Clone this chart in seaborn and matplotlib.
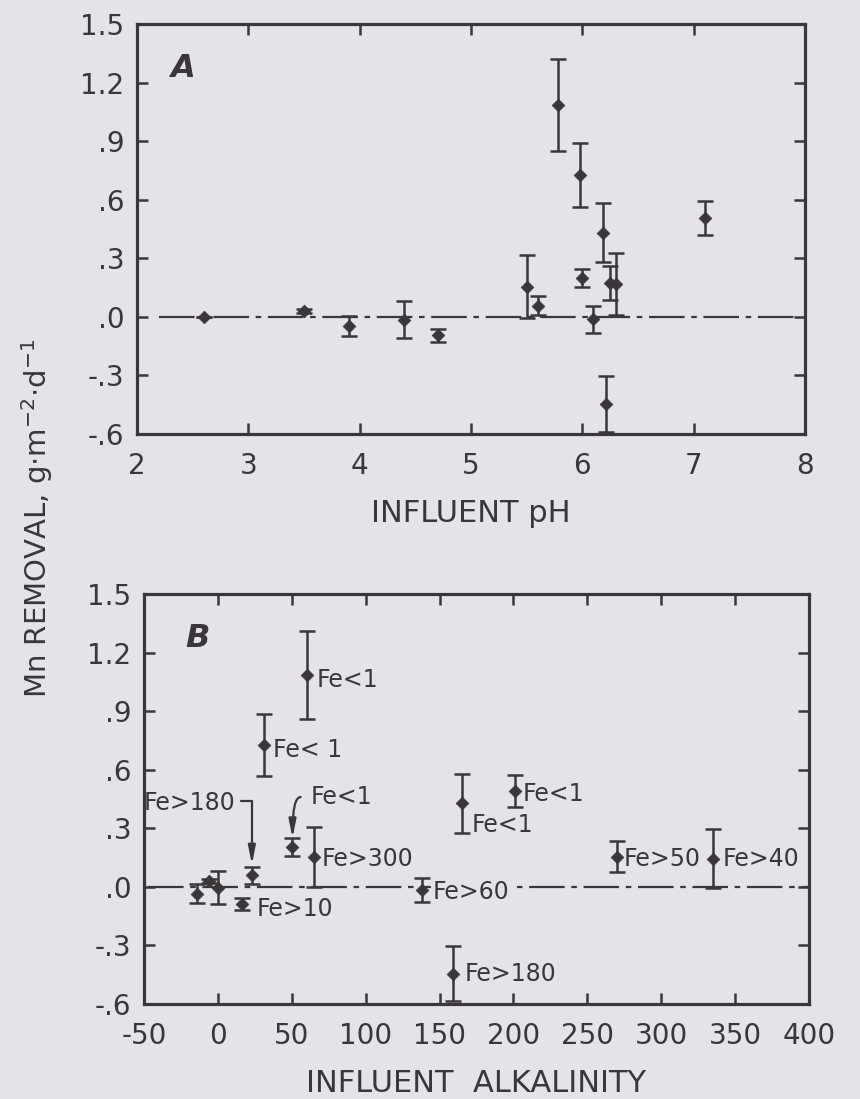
import numpy as np
import pandas as pd
import matplotlib
matplotlib.use("Agg")
import matplotlib.pyplot as plt
import seaborn as sns

# ---------------- data ----------------
# Panel A: influent pH
ph = [2.6, 3.5, 3.9, 4.4, 4.7, 5.5, 5.6, 5.78, 5.98, 6.0, 6.1, 6.19, 6.25, 6.3, 6.21, 7.1]
ph_removal = [0.0, 0.03, -0.047, -0.015, -0.095, 0.155, 0.058, 1.085, 0.728, 0.2,
              -0.013, 0.432, 0.174, 0.168, -0.446, 0.505]
ph_err = [0.0, 0.012, 0.05, 0.095, 0.035, 0.16, 0.048, 0.235, 0.165, 0.045,
          0.068, 0.153, 0.087, 0.16, 0.143, 0.086]

# Panel B: influent alkalinity
alk = [-14, -6, 0, 16, 23, 31, 50, 60, 65, 138, 159, 165, 201, 270, 335]
alk_removal = [-0.035, 0.03, -0.005, -0.088, 0.06, 0.727, 0.205, 1.086, 0.154,
               -0.017, -0.444, 0.427, 0.491, 0.154, 0.145]
alk_err = [0.05, 0.012, 0.085, 0.03, 0.043, 0.158, 0.047, 0.227, 0.154,
           0.062, 0.14, 0.15, 0.08, 0.08, 0.15]

# Iron annotations in panel B
fe_labels = ["Fe<1", "Fe< 1", "Fe>300", "Fe>10", "Fe>60", "Fe>180", "Fe<1", "Fe<1", "Fe>50", "Fe>40"]
fe_label_x = [67, 37.5, 70.5, 26, 145.5, 167, 171.5, 206.5, 274.5, 341.5]
fe_label_y = [1.06, 0.70, 0.145, -0.111, -0.026, -0.444, 0.316, 0.478, 0.145, 0.145]

# labels with leader lines
leader_labels = ["Fe>180", "Fe<1"]
leader_text_x = [12, 63]
leader_text_y = [0.43, 0.46]
leader_start_x = [15.5, 56]
leader_start_y = [0.44, 0.46]
leader_tip_x = [23, 50.5]
leader_tip_y = [0.115, 0.25]

ph_ticks = [2, 3, 4, 5, 6, 7, 8]
alk_ticks = [-50, 0, 50, 100, 150, 200, 250, 300, 350, 400]
removal_ticks = [-0.6, -0.3, 0.0, 0.3, 0.6, 0.9, 1.2, 1.5]
removal_ticklabels = ["-.6", "-.3", ".0", ".3", ".6", ".9", "1.2", "1.5"]
zero_line_ph = [2.2, 7.9]
zero_line_alk = [-47, 400]

# ---------------- style ----------------
BG = "#e5e3e9"
INK = "#3a3639"
sns.set_theme(style="ticks")
plt.rcParams["font.family"] = ["DejaVu Sans"]
plt.rcParams.update({
    "figure.facecolor": BG,
    "axes.facecolor": BG,
    "savefig.facecolor": BG,
    "axes.edgecolor": INK,
    "text.color": INK,
    "axes.labelcolor": INK,
    "xtick.color": INK,
    "ytick.color": INK,
})

fig = plt.figure(figsize=(8.6, 10.99), dpi=100)
W, H = 860, 1099
axA = fig.add_axes([137 / W, 1 - 434 / H, (805 - 137) / W, (434 - 24) / H])
axB = fig.add_axes([144 / W, 1 - 1004 / H, (809 - 144) / W, (1004 - 594) / H])

dash = (0, (16, 3, 2.5, 3))


def style_axis(ax, xticks, xlim):
    ax.set_xlim(*xlim)
    ax.set_ylim(-0.6, 1.5)
    ax.set_xticks(xticks)
    ax.set_xticklabels([str(t) for t in xticks])
    ax.set_yticks(removal_ticks)
    ax.set_yticklabels(removal_ticklabels)
    for s in ax.spines.values():
        s.set_visible(True)
        s.set_linewidth(2.3)
        s.set_color(INK)
    ax.tick_params(axis="both", direction="in", length=8, width=1.8,
                   top=True, right=True, labelsize=20, pad=9, colors=INK)
    ax.tick_params(axis="x", pad=13)


# ---------- Panel A ----------
dfA = pd.DataFrame({"ph": ph, "removal": ph_removal, "err": ph_err})
axA.hlines(0, zero_line_ph[0], zero_line_ph[1], color=INK, lw=1.6, linestyle=dash, zorder=1)
axA.errorbar(dfA["ph"], dfA["removal"], yerr=dfA["err"], fmt="none", ecolor=INK,
             elinewidth=1.8, capsize=6, capthick=1.8, zorder=3)
sns.scatterplot(data=dfA, x="ph", y="removal", ax=axA, color=INK, marker="D",
                s=42, edgecolor=INK, linewidth=0.5, zorder=4, legend=False)
style_axis(axA, ph_ticks, (2, 8))
axA.set_xlabel("INFLUENT pH", fontsize=22, labelpad=14)
axA.set_ylabel("")
axA.text(2.3, 1.27, "A", fontsize=23, fontstyle="italic", fontweight="bold",
         ha="left", va="center", color=INK)

# ---------- Panel B ----------
dfB = pd.DataFrame({"alk": alk, "removal": alk_removal, "err": alk_err})
axB.hlines(0, zero_line_alk[0], zero_line_alk[1], color=INK, lw=1.6, linestyle=dash, zorder=1)
axB.errorbar(dfB["alk"], dfB["removal"], yerr=dfB["err"], fmt="none", ecolor=INK,
             elinewidth=1.8, capsize=6, capthick=1.8, zorder=3)
sns.scatterplot(data=dfB, x="alk", y="removal", ax=axB, color=INK, marker="D",
                s=42, edgecolor=INK, linewidth=0.5, zorder=4, legend=False)
style_axis(axB, alk_ticks, (-50, 400))
axB.set_xlabel("INFLUENT  ALKALINITY", fontsize=22, labelpad=14)
axB.set_ylabel("")
axB.text(-22, 1.27, "B", fontsize=23, fontstyle="italic", fontweight="bold",
         ha="left", va="center", color=INK)

for lab, x, y in zip(fe_labels, fe_label_x, fe_label_y):
    axB.text(x, y, lab, fontsize=17, ha="left", va="center", color=INK, zorder=2.5,
             bbox=dict(boxstyle="square,pad=0.08", facecolor=BG, edgecolor="none"))

for i, lab in enumerate(leader_labels):
    ha = "right" if i == 0 else "left"
    axB.text(leader_text_x[i], leader_text_y[i], lab, fontsize=17, ha=ha, va="center",
             color=INK, zorder=2.5)
conn = ["angle,angleA=0,angleB=90,rad=0", "angle3,angleA=0,angleB=90"]
for i in range(len(leader_labels)):
    axB.annotate("", xy=(leader_tip_x[i], leader_tip_y[i]),
                 xytext=(leader_start_x[i], leader_start_y[i]),
                 arrowprops=dict(arrowstyle="-|>,head_length=0.9,head_width=0.18",
                                 connectionstyle=conn[i], color=INK, lw=1.6,
                                 shrinkA=0, shrinkB=0))

fig.text(37 / W, 1 - 518 / H, "Mn REMOVAL, g$\\cdot$m$^{-2}$$\\cdot$d$^{-1}$",
         rotation=90, fontsize=21, ha="center", va="center", color=INK)

fig.savefig("out.png", dpi=100)
